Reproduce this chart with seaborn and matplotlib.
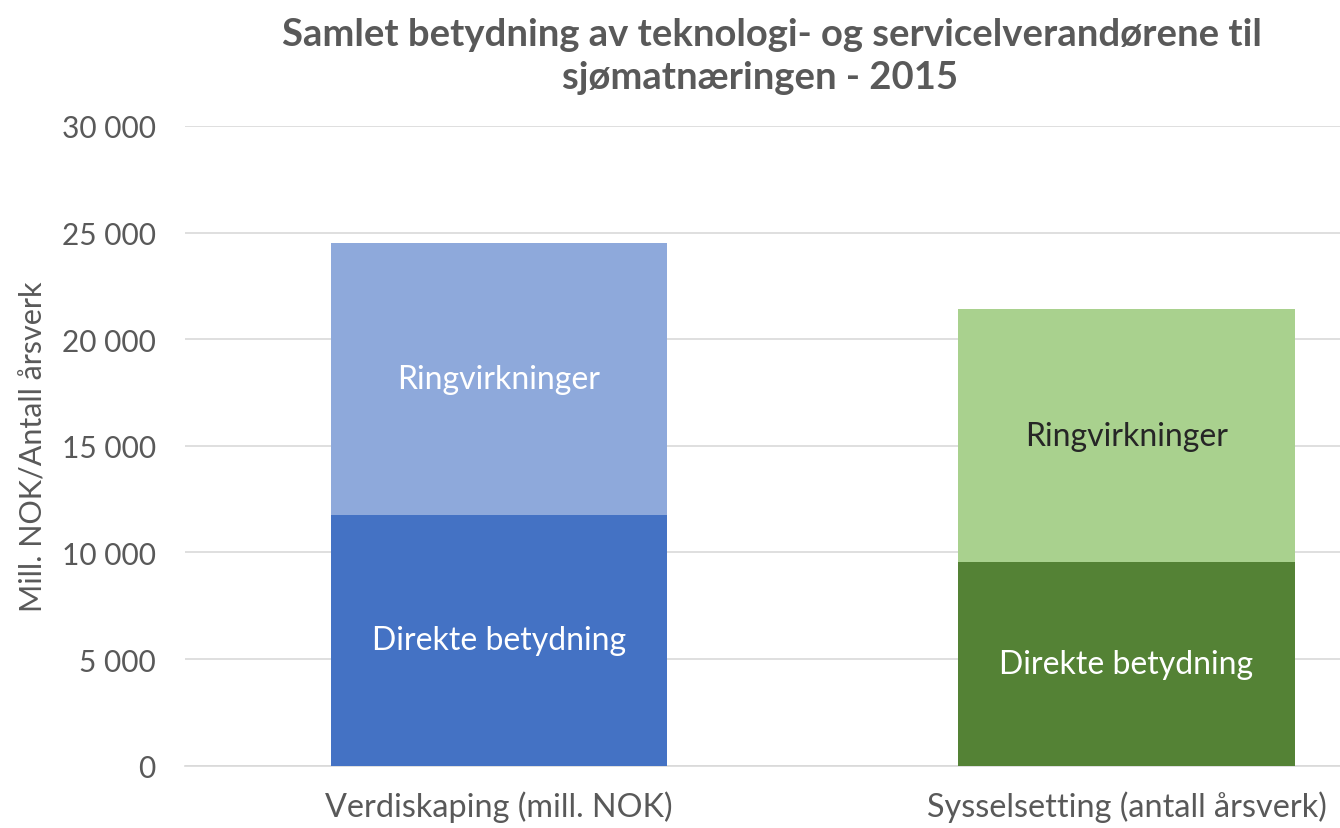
import pandas as pd
import seaborn as sns
import matplotlib.pyplot as plt

# ---------------- data ----------------
kategorier = ["Verdiskaping (mill. NOK)", "Sysselsetting (antall årsverk)"]
direkte = [11750, 9560]
ringvirkninger = [12750, 11840]
totalt = [d + r for d, r in zip(direkte, ringvirkninger)]

df = pd.DataFrame({"Kategori": kategorier, "Direkte": direkte,
                   "Ringvirkninger": ringvirkninger, "Totalt": totalt})

lys = {kategorier[0]: "#8EA9DB", kategorier[1]: "#A9D18E"}
mork = {kategorier[0]: "#4472C4", kategorier[1]: "#548235"}

sns.set_style("white")
plt.rcParams["font.family"] = ["Lato", "DejaVu Sans"]
grå = "#595959"

fig = plt.figure(figsize=(13.4, 8.29), dpi=100)
ax = fig.add_axes([0.138, 0.075, 0.862, 0.772])

# stacked bars: total first (light), direct on top of it (dark)
sns.barplot(data=df, x="Kategori", y="Totalt", hue="Kategori", palette=lys,
            dodge=False, width=0.536, legend=False, ax=ax, zorder=3,
            saturation=1, linewidth=0)
sns.barplot(data=df, x="Kategori", y="Direkte", hue="Kategori", palette=mork,
            dodge=False, width=0.536, legend=False, ax=ax, zorder=3,
            saturation=1, linewidth=0)

# segment labels
txtfarge_ring = ["white", "#262626"]
for i in range(len(kategorier)):
    ax.text(i, direkte[i] + ringvirkninger[i] / 2, "Ringvirkninger", ha="center",
            va="center", fontsize=23, color=txtfarge_ring[i], zorder=4)
    ax.text(i, direkte[i] / 2, "Direkte betydning", ha="center", va="center",
            fontsize=23, color="white", zorder=4)

ax.set_ylim(0, 30000)
ax.set_xlim(-0.5, 1.34)
ax.set_yticks(range(0, 30001, 5000))
ax.set_yticklabels([f"{v:,}".replace(",", " ") for v in range(0, 30001, 5000)])
ax.yaxis.grid(True, color="#D9D9D9", linewidth=1.2, zorder=0)
ax.set_axisbelow(True)
for s in ["top", "right", "left"]:
    ax.spines[s].set_visible(False)
ax.spines["bottom"].set_color("#D9D9D9")
ax.spines["bottom"].set_linewidth(1.2)
ax.tick_params(axis="y", length=0, labelsize=21.5, colors=grå, pad=21)
ax.tick_params(axis="x", length=0, labelsize=23.3, colors=grå, pad=18)
ax.set_xlabel("")
ax.set_ylabel("Mill. NOK/Antall årsverk", fontsize=22, color=grå, labelpad=10)

fig.text(0.576, 0.958, "Samlet betydning av teknologi- og servicelverandørene til",
         ha="center", va="center", fontsize=27.5, fontweight="bold", color=grå)
fig.text(0.567, 0.906, "sjømatnæringen - 2015",
         ha="center", va="center", fontsize=27.5, fontweight="bold", color=grå)

fig.savefig("out.png", dpi=100)
